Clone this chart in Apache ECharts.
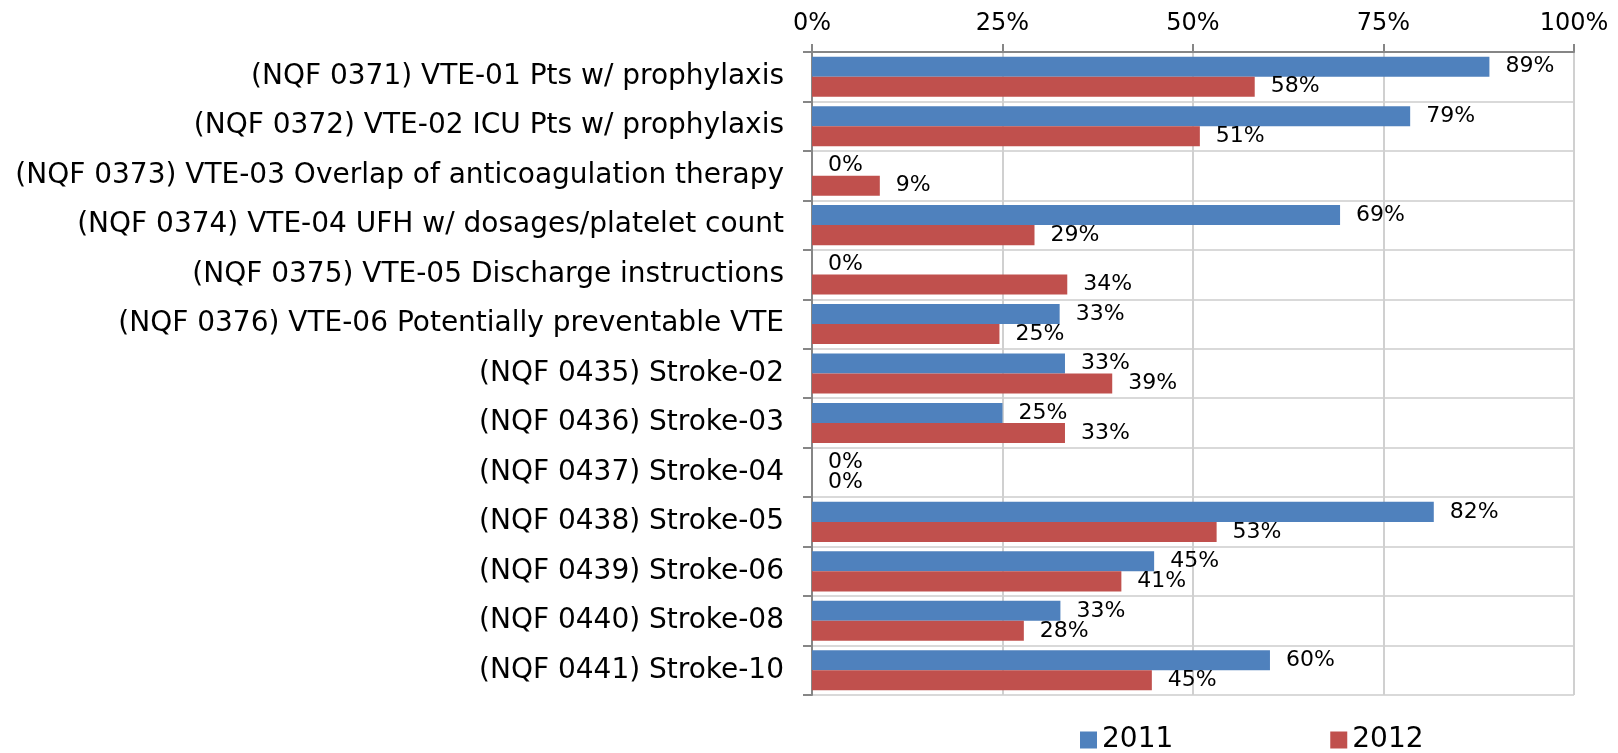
<!DOCTYPE html>
<html>
<head>
<meta charset="utf-8">
<script src="https://cdn.jsdelivr.net/npm/echarts@6/dist/echarts.min.js"></script>
<style>html,body{margin:0;padding:0;background:#fff;}#c{width:1618px;height:753px;}</style>
</head>
<body>
<div id="c"></div>
<script>
const categories = [
  "(NQF 0371) VTE-01 Pts w/ prophylaxis",
  "(NQF 0372) VTE-02 ICU Pts w/ prophylaxis",
  "(NQF 0373) VTE-03 Overlap of anticoagulation therapy",
  "(NQF 0374) VTE-04 UFH w/ dosages/platelet count",
  "(NQF 0375) VTE-05 Discharge instructions",
  "(NQF 0376) VTE-06 Potentially preventable VTE",
  "(NQF 0435) Stroke-02",
  "(NQF 0436) Stroke-03",
  "(NQF 0437) Stroke-04",
  "(NQF 0438) Stroke-05",
  "(NQF 0439) Stroke-06",
  "(NQF 0440) Stroke-08",
  "(NQF 0441) Stroke-10"
];
const values2011 = [88.9, 78.5, 0, 69.3, 0, 32.5, 33.2, 25.0, 0, 81.6, 44.9, 32.6, 60.1];
const values2012 = [58.1, 50.9, 8.9, 29.2, 33.5, 24.6, 39.4, 33.2, 0, 53.1, 40.6, 27.8, 44.6];
const seriesNames = ["2011", "2012"];
const xTicks = [0, 25, 50, 75, 100];

const FONT = "DejaVu Sans";
const chart = echarts.init(document.getElementById('c'));
const labelCfg = {
  show: true, position: 'right', distance: 16,
  fontFamily: FONT, fontSize: 22, color: '#000',
  formatter: p => Math.round(p.value) + '%'
};
chart.setOption({
  animation: false,
  textStyle: { fontFamily: FONT },
  grid: { left: 812, right: 44, top: 52, bottom: 58, containLabel: false },
  legend: {
    top: 721, left: 1075, itemWidth: 17, itemHeight: 17, itemGap: 157,
    icon: 'rect',
    textStyle: { fontFamily: FONT, fontSize: 28, color: '#000' },
    data: seriesNames
  },
  xAxis: {
    type: 'value', position: 'top', min: xTicks[0], max: xTicks[xTicks.length - 1], interval: 25,
    axisLine: { show: true, lineStyle: { color: '#868686', width: 2 } },
    axisTick: { show: true, length: 8, lineStyle: { color: '#868686', width: 2 } },
    axisLabel: { fontFamily: FONT, fontSize: 24, color: '#000', margin: 16, formatter: v => v + '%' },
    splitLine: { show: true, lineStyle: { color: '#D0D0D0', width: 2 } }
  },
  yAxis: {
    type: 'category', inverse: true, data: categories,
    axisLine: { show: true, lineStyle: { color: '#868686', width: 2 } },
    axisTick: { show: true, length: 9, lineStyle: { color: '#868686', width: 2 } },
    axisLabel: { fontFamily: FONT, fontSize: 28, color: '#000', margin: 28 },
    splitLine: { show: true, lineStyle: { color: '#D9D9D9', width: 2 } }
  },
  series: [
    { name: seriesNames[0], type: 'bar', data: values2011, barGap: '0%', barCategoryGap: '19%',
      itemStyle: { color: '#4F81BD' }, label: labelCfg },
    { name: seriesNames[1], type: 'bar', data: values2012, barGap: '0%', barCategoryGap: '19%',
      itemStyle: { color: '#C0504D' }, label: labelCfg }
  ]
});
</script>
</body>
</html>
